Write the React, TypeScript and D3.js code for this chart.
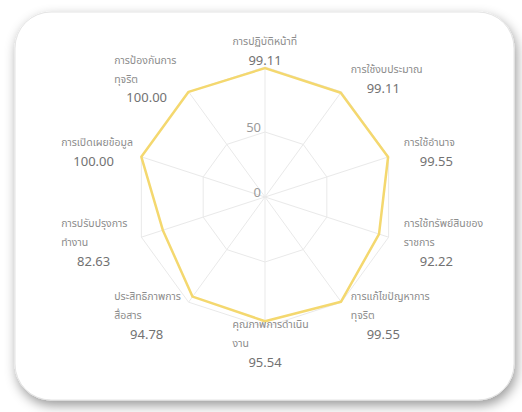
import * as d3 from "d3";

const categories = [
  "การปฏิบัติหน้าที่",
  "การใช้งบประมาณ",
  "การใช้อำนาจ",
  "การใช้ทรัพย์สินของราชการ",
  "การแก้ไขปัญหาการทุจริต",
  "คุณภาพการดำเนินงาน",
  "ประสิทธิภาพการสื่อสาร",
  "การปรับปรุงการทำงาน",
  "การเปิดเผยข้อมูล",
  "การป้องกันการทุจริต",
];

// wrapped the same way the reference breaks them
const labelLines = [
  ["การปฏิบัติหน้าที่"],
  ["การใช้งบประมาณ"],
  ["การใช้อำนาจ"],
  ["การใช้ทรัพย์สินของ", "ราชการ"],
  ["การแก้ไขปัญหาการ", "ทุจริต"],
  ["คุณภาพการดำเนิน", "งาน"],
  ["ประสิทธิภาพการ", "สื่อสาร"],
  ["การปรับปรุงการ", "ทำงาน"],
  ["การเปิดเผยข้อมูล"],
  ["การป้องกันการ", "ทุจริต"],
];

const scores = [99.11, 99.11, 99.55, 92.22, 99.55, 95.54, 94.78, 82.63, 100.0, 100.0];

const tickValues = [0, 50];
const ringValues = [50, 100];

const width = 522;
const height = 412;
const cx = 265;
const cy = 197;
const radius = 130;
const labelRadius = 146;
const blockWidth = 65;
const lineStep = 19;
const fontFamily = "'Noto Sans Thai', 'Noto Sans', 'Open Sans', sans-serif";

export default function App() {
  const n = categories.length;
  const angle = d3.scaleLinear().domain([0, n]).range([0, 2 * Math.PI]);
  const r = d3.scaleLinear().domain([0, 100]).range([0, radius]);

  const pointAt = (i: number, value: number) => {
    const a = angle(i);
    return [cx + r(value) * Math.sin(a), cy - r(value) * Math.cos(a)];
  };

  const ringPath = (level: number) =>
    d3.line().curve(d3.curveLinearClosed)(categories.map((_, i) => pointAt(i, level) as [number, number])) ?? "";

  const scorePath =
    d3
      .lineRadial<number>()
      .angle((_, i) => angle(i))
      .radius((d) => r(d))
      .curve(d3.curveLinearClosed)(scores) ?? "";

  return (
    <svg width={width} height={height} style={{ position: "absolute", left: 0, top: 0, background: "#fff" }}>
      <defs>
        <filter id="cardShadow" x="-10%" y="-10%" width="120%" height="125%">
          <feDropShadow dx="2" dy="5" stdDeviation="6" floodColor="#000" floodOpacity="0.4" />
        </filter>
      </defs>
      <rect x={15} y={12} width={499} height={388} rx={36} fill="#fff" stroke="#e4e4e4" filter="url(#cardShadow)" />

      {ringValues.map((level) => (
        <path key={`ring-${level}`} d={ringPath(level)} fill="none" stroke="#e9e9e9" strokeWidth={1} />
      ))}
      {categories.map((cat, i) => {
        const [x, y] = pointAt(i, 100);
        return <line key={`axis-${cat}`} x1={cx} y1={cy} x2={x} y2={y} stroke="#e9e9e9" strokeWidth={1} />;
      })}

      {tickValues.map((t) => (
        <text
          key={`tick-${t}`}
          x={cx - 4}
          y={cy - r(t)}
          textAnchor="end"
          fontFamily={fontFamily}
          fontSize={13}
          fill="#9a9a9a"
        >
          {t}
        </text>
      ))}

      <path d={scorePath} transform={`translate(${cx}, ${cy})`} fill="none" stroke="#f4d86f" strokeWidth={2.5} strokeLinejoin="round" />

      {categories.map((cat, i) => {
        const a = angle(i);
        const sx = Math.sin(a);
        const ax = cx + labelRadius * sx;
        const ay = cy - labelRadius * Math.cos(a);
        let left = ax - blockWidth / 2;
        if (sx > 0.01) left = ax;
        else if (sx < -0.01) left = ax - blockWidth;
        const lines = labelLines[i];
        const total = lines.length + 1;
        const yFor = (k: number) => ay + (k - (total - 1) / 2) * lineStep;
        return (
          <g key={`label-${cat}`} fontFamily={fontFamily}>
            {lines.map((line, k) => (
              <text key={line} x={left} y={yFor(k)} dy="0.35em" fontSize={10.5} fill="#8c8c8c">
                {line}
              </text>
            ))}
            <text x={left + blockWidth / 2} y={yFor(lines.length)} dy="0.35em" textAnchor="middle" fontSize={13} fill="#727272">
              {scores[i].toFixed(2)}
            </text>
          </g>
        );
      })}
    </svg>
  );
}
